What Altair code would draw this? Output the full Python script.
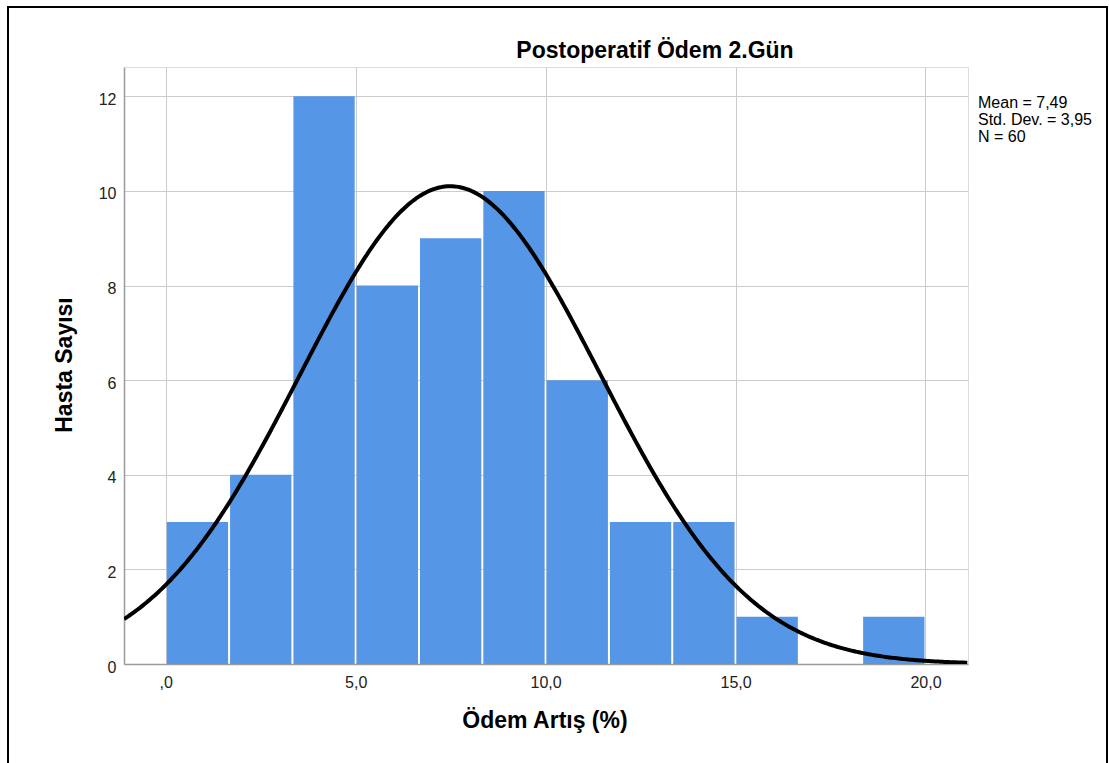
import altair as alt
import pandas as pd

# Histogram data
bin_start = [0.0, 1.6667, 3.3333, 5.0, 6.6667, 8.3333, 10.0, 11.6667, 13.3333, 15.0, 16.6667, 18.3333]
bin_end = [1.6667, 3.3333, 5.0, 6.6667, 8.3333, 10.0, 11.6667, 13.3333, 15.0, 16.6667, 18.3333, 20.0]
counts = [3, 4, 12, 8, 9, 10, 6, 3, 3, 1, 0, 1]

# Stated summary statistics (used for the fitted normal curve)
mean_val = 7.49
sd_val = 3.95
n_val = 60
bin_width = 20.0 / 12

x_domain = [-1.1, 21.12]
y_domain = [0, 12.62]

bars_df = pd.DataFrame({"start": bin_start, "end": bin_end, "count": counts})
bars_df = bars_df[bars_df["count"] > 0]

W, H = 844, 597
FONT = "Liberation Sans"

xscale = alt.Scale(domain=x_domain, nice=False, zero=False)
yscale = alt.Scale(domain=y_domain, nice=False)

bars = alt.Chart(bars_df).mark_rect(
    color="#5596e6", xOffset=1, x2Offset=-1, clip=True
).encode(
    x=alt.X("start:Q", scale=xscale,
            axis=alt.Axis(values=[0, 5, 10, 15, 20], title=None, grid=True,
                          gridColor="#cccccc", ticks=False, domainColor="#9a9a9a",
                          domainWidth=1.5, labelFont=FONT, labelFontSize=16,
                          labelColor="#222222", labelPadding=10,
                          labelExpr="datum.value == 0 ? ',0' : replace(format(datum.value, '.1f'), '.', ',')")),
    x2="end:Q",
    y=alt.Y("count:Q", scale=yscale,
            axis=alt.Axis(values=[0, 2, 4, 6, 8, 10, 12], title=None, grid=True,
                          gridColor="#cccccc", ticks=False, domainColor="#9a9a9a",
                          domainWidth=1.5, labelFont=FONT, labelFontSize=16,
                          labelColor="#222222", labelPadding=8, labelOffset=3)),
    y2=alt.datum(0),
)

curve = alt.Chart(alt.sequence(start=x_domain[0], stop=x_domain[1] + 0.01, step=0.05, as_="xv")).transform_calculate(
    yv=f"{n_val}*{bin_width}*exp(-0.5*pow((datum.xv-{mean_val})/{sd_val},2))/({sd_val}*sqrt(2*PI))"
).mark_line(color="black", strokeWidth=4, clip=True).encode(
    x=alt.X("xv:Q", scale=xscale),
    y=alt.Y("yv:Q", scale=yscale),
)

def label(text, x, y, size, bold=False, angle=0, align="center", baseline="middle"):
    props = dict(text=text, font=FONT, fontSize=size, color="black",
                 align=align, baseline=baseline)
    if bold:
        props["fontWeight"] = "bold"
    if angle:
        props["angle"] = angle
    return alt.Chart(pd.DataFrame({"d": [0]})).mark_text(**props).encode(
        x=alt.value(x), y=alt.value(y))

title = label("Postoperatif Ödem 2.Gün", 531, -16, 23, bold=True)
xtitle = label("Ödem Artış (%)", 421, 654, 23, bold=True)
ytitle = label("Hasta Sayısı", -59, 298, 23, bold=True, angle=270)
stats = [
    label("Mean = 7,49", 854, 36, 16, align="left"),
    label("Std. Dev. = 3,95", 854, 53, 16, align="left"),
    label("N = 60", 854, 70, 16, align="left"),
]

frame = alt.Chart(pd.DataFrame({"d": [0]})).mark_rect(
    fill=None, stroke="black", strokeWidth=2
).encode(
    x=alt.value(-116), x2=alt.value(983), y=alt.value(-60), y2=alt.value(720)
)

chart = alt.layer(bars, curve, title, xtitle, ytitle, *stats, frame).properties(
    width=W, height=H,
    autosize=alt.AutoSizeParams(type="none"),
    padding={"left": 124, "top": 67, "right": 141, "bottom": 99},
).configure_view(stroke=None).configure(background="white")

chart.save("out.html", embed_options={"renderer": "svg", "actions": False})
